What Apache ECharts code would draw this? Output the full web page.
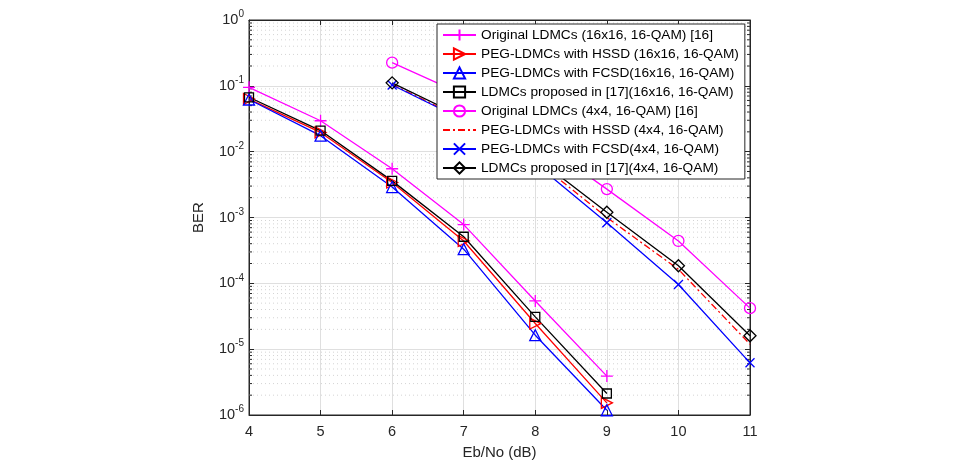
<!DOCTYPE html>
<html>
<head>
<meta charset="utf-8">
<script src="https://cdn.jsdelivr.net/npm/echarts@6/dist/echarts.min.js"></script>
<style>
  html, body { margin: 0; padding: 0; background: #fff; }
  #chart { width: 960px; height: 462px; }
</style>
</head>
<body>
<div id="chart"></div>
<script>
// Eb/No points (dB)
const ebno16 = [4, 5, 6, 7, 8, 9];
const ebno4 = [6, 7, 8, 9, 10, 11];

// BER values
const origLdmc16 = [0.095, 0.0295, 0.0055, 7.8e-4, 5.4e-5, 3.9e-6];
const pegHssd16 = [0.063, 0.0196, 0.0034, 4.4e-4, 2.45e-5, 1.53e-6];
const pegFcsd16 = [0.062, 0.0175, 0.0029, 3.3e-4, 1.63e-5, 1.18e-6];
const prop16 = [0.067, 0.0209, 0.0036, 5.1e-4, 3.1e-5, 2.12e-6];
const origLdmc4 = [0.225, 0.073, 0.016, 2.7e-3, 4.4e-4, 4.2e-5];
const pegHssd4 = [0.105, 0.031, 0.0075, 1.0e-3, 1.63e-4, 1.19e-5];
const pegFcsd4 = [0.103, 0.030, 0.0066, 8.3e-4, 9.6e-5, 6.2e-6];
const prop4 = [0.111, 0.033, 0.0082, 1.2e-3, 1.85e-4, 1.6e-5];

const names = [
  'Original LDMCs (16x16, 16-QAM) [16]',
  'PEG-LDMCs with HSSD (16x16, 16-QAM)',
  'PEG-LDMCs with FCSD(16x16, 16-QAM)',
  'LDMCs proposed in [17](16x16, 16-QAM)',
  'Original LDMCs (4x4, 16-QAM) [16]',
  'PEG-LDMCs with HSSD (4x4, 16-QAM)',
  'PEG-LDMCs with FCSD(4x4, 16-QAM)',
  'LDMCs proposed in [17](4x4, 16-QAM)'
];

// minor log grid: 2..9 x 10^e
const minorMult = [2, 3, 4, 5, 6, 7, 8, 9];
const decades = [-6, -5, -4, -3, -2, -1];

const minorVals = [];
decades.forEach(e => minorMult.forEach(m => minorVals.push([4, m * Math.pow(10, e)])));

const FONT = '"Liberation Sans", Arial, Helvetica, sans-serif';
const PLUS = 'path://M5,0L5,10M0,5L10,5';
const CROSS = 'path://M0,0L10,10M10,0L0,10';

function pair(xs, ys) {
  return xs.map((x, i) => [x, ys[i]]);
}

function mkSeries(name, xs, ys, color, symbol, size, extra) {
  return Object.assign({
    name: name,
    type: 'line',
    data: pair(xs, ys),
    symbol: symbol,
    symbolSize: size,
    showAllSymbol: true,
    z: 3,
    lineStyle: { color: color, width: 1.3 },
    itemStyle: { color: 'rgba(0,0,0,0)', borderColor: color, borderWidth: 1.3 }
  }, extra || {});
}

const chart = echarts.init(document.getElementById('chart'));

const option = {
  animation: false,
  textStyle: { fontFamily: FONT },
  grid: {
    left: 249, right: 210, top: 20, bottom: 47,
    outerBoundsMode: 'none',
    show: true, borderColor: '#262626', borderWidth: 1, backgroundColor: '#fff'
  },
  legend: {
    orient: 'vertical',
    left: 437, top: 24,
    data: names,
    backgroundColor: '#fff',
    borderColor: '#262626',
    borderWidth: 1,
    padding: [4, 6, 4, 5],
    itemGap: 5,
    itemWidth: 33,
    itemHeight: 14,
    textStyle: { fontSize: 13.7, color: '#000', fontFamily: FONT },
    z: 10
  },
  xAxis: [{
    type: 'value', min: 4, max: 11, interval: 1,
    name: 'Eb/No (dB)', nameLocation: 'middle', nameGap: 30,
    nameTextStyle: { fontSize: 15, color: '#262626' },
    axisLine: { show: true, lineStyle: { color: '#262626' } },
    axisTick: { inside: true, length: 5, lineStyle: { color: '#262626' } },
    axisLabel: { fontSize: 14.5, color: '#262626', margin: 9 },
    splitLine: { show: true, lineStyle: { color: '#dfdfdf', width: 1 } }
  }, {
    type: 'value', min: 4, max: 11, interval: 1, position: 'top',
    axisLine: { show: true, lineStyle: { color: '#262626' } },
    axisTick: { inside: true, length: 5, lineStyle: { color: '#262626' } },
    axisLabel: { show: false }, splitLine: { show: false }
  }],
  yAxis: [{
    type: 'log', logBase: 10, min: 1e-6, max: 1, splitNumber: 6,
    name: 'BER', nameLocation: 'middle', nameGap: 43,
    nameTextStyle: { fontSize: 15, color: '#262626' },
    axisLine: { show: true, lineStyle: { color: '#262626' } },
    axisTick: { inside: true, length: 5, lineStyle: { color: '#262626' } },
    axisLabel: {
      margin: 5, color: '#262626',
      formatter: function (v) {
        const e = Math.round(Math.log10(v));
        return '{b|10}{s|' + e + '}';
      },
      rich: {
        b: { fontSize: 14.5, color: '#262626', fontFamily: FONT },
        s: { fontSize: 10, color: '#262626', fontFamily: FONT, padding: [0, 0, 11, 0] }
      }
    },
    splitLine: { show: true, lineStyle: { color: '#dfdfdf', width: 1 } }
  }, {
    type: 'log', logBase: 10, min: 1e-6, max: 1, splitNumber: 6, position: 'right',
    axisLine: { show: true, lineStyle: { color: '#262626' } },
    axisTick: { inside: true, length: 5, lineStyle: { color: '#262626' } },
    axisLabel: { show: false }, splitLine: { show: false }
  }],
  series: [
    {
      type: 'custom',
      silent: true,
      z: 1,
      data: minorVals,
      encode: { x: 0, y: 1 },
      renderItem: function (params, api) {
        const v = api.value(1);
        const p0 = api.coord([4, v]);
        const p1 = api.coord([11, v]);
        return {
          type: 'group',
          children: [{
            type: 'line',
            shape: { x1: p0[0], y1: p0[1], x2: p1[0], y2: p1[1] },
            style: { stroke: '#d4d4d4', lineWidth: 1, lineDash: [1, 3] }
          }, {
            type: 'line',
            shape: { x1: p0[0], y1: p0[1], x2: p0[0] + 3, y2: p0[1] },
            style: { stroke: '#262626', lineWidth: 1 }
          }, {
            type: 'line',
            shape: { x1: p1[0] - 3, y1: p1[1], x2: p1[0], y2: p1[1] },
            style: { stroke: '#262626', lineWidth: 1 }
          }]
        };
      }
    },
    mkSeries(names[0], ebno16, origLdmc16, '#ff00ff', PLUS, 12),
    mkSeries(names[1], ebno16, pegHssd16, '#ff0000', 'triangle', 11, { symbolRotate: -90 }),
    mkSeries(names[2], ebno16, pegFcsd16, '#0000ff', 'triangle', 11),
    mkSeries(names[3], ebno16, prop16, '#000000', 'rect', 9),
    mkSeries(names[4], ebno4, origLdmc4, '#ff00ff', 'circle', 11),
    mkSeries(names[5], ebno4, pegHssd4, '#ff0000', 'circle', 0, {
      lineStyle: { color: '#ff0000', width: 1.3, type: [7, 3, 2, 3] },
      itemStyle: { color: 'rgba(0,0,0,0)', borderColor: 'rgba(0,0,0,0)', borderWidth: 0 }
    }),
    mkSeries(names[6], ebno4, pegFcsd4, '#0000ff', CROSS, 9),
    mkSeries(names[7], ebno4, prop4, '#000000', 'diamond', 12)
  ]
};

chart.setOption(option);
</script>
</body>
</html>
